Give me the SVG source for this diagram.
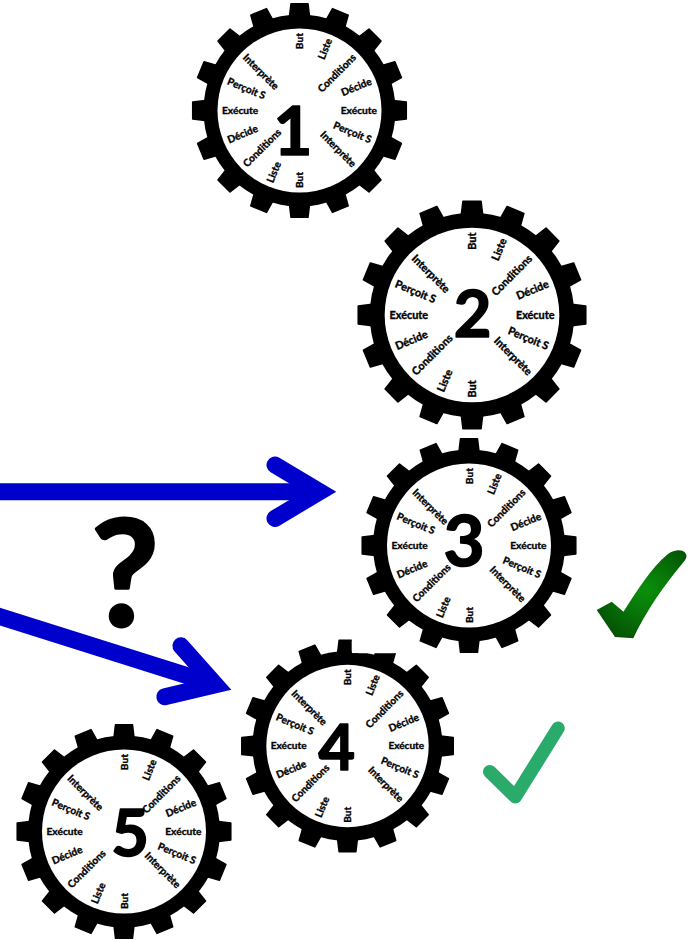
<svg xmlns="http://www.w3.org/2000/svg" xmlns:xlink="http://www.w3.org/1999/xlink" width="693" height="940" viewBox="0 0 693 940">
<style>
.lbl text{font-family:Lato,"Liberation Sans",sans-serif;font-weight:700;font-size:10.2px;fill:#000;stroke:#000;stroke-width:0.35px}
.e{text-anchor:end}
.s{text-anchor:start}
.num{font-family:Lato,"Liberation Sans",sans-serif;font-weight:700;fill:#000;text-anchor:middle;stroke:#000;stroke-width:1.6px;stroke-linejoin:round}
.q{stroke-width:3px}
.arrow{fill:none;stroke:#0000cc;stroke-width:17}
</style>
<defs>
<g id="gear-shape">
<circle r="96" fill="#000"/>
<g fill="#000" stroke="#000" stroke-width="1.5" stroke-linejoin="round">
<polygon id="tooth" points="-10.5,-90 -8.5,-106.8 8.5,-106.8 10.5,-90"/>
<use href="#tooth" transform="rotate(22.5)"/>
<use href="#tooth" transform="rotate(45)"/>
<use href="#tooth" transform="rotate(67.5)"/>
<use href="#tooth" transform="rotate(90)"/>
<use href="#tooth" transform="rotate(112.5)"/>
<use href="#tooth" transform="rotate(135)"/>
<use href="#tooth" transform="rotate(157.5)"/>
<use href="#tooth" transform="rotate(180)"/>
<use href="#tooth" transform="rotate(202.5)"/>
<use href="#tooth" transform="rotate(225)"/>
<use href="#tooth" transform="rotate(247.5)"/>
<use href="#tooth" transform="rotate(270)"/>
<use href="#tooth" transform="rotate(292.5)"/>
<use href="#tooth" transform="rotate(315)"/>
<use href="#tooth" transform="rotate(337.5)"/>
</g>
<circle r="82" fill="#fff"/>
</g>
<marker id="chev" markerUnits="userSpaceOnUse" orient="auto" overflow="visible" markerWidth="1" markerHeight="1" refX="0" refY="0">
<path d="M-44.7,-26.7 L0,0 L-44.7,26.7" fill="none" stroke="#0000cc" stroke-width="17" stroke-linecap="round" stroke-linejoin="miter"/>
</marker>
<radialGradient id="gck" cx="0.55" cy="0.45" r="0.6">
<stop offset="0" stop-color="#0b900b"/>
<stop offset="1" stop-color="#045504"/>
</radialGradient>
<clipPath id="clip4" clipPathUnits="userSpaceOnUse">
<path d="M0,0 H351.7 V653.3 H693 V940 H0 Z"/>
</clipPath>
</defs>

<g id="connectors">
<path class="arrow" d="M-5,491.7 L319.7,491.7" marker-end="url(#chev)"/>
<path class="arrow" d="M-5,615.1 L215.5,684.7" marker-end="url(#chev)"/>
</g>

<g id="question">
<text class="num q" x="125" y="626" font-size="148">?</text>
</g>

<g id="gear1">
<use href="#gear-shape" transform="translate(299.5,110.5)"/>
<g class="lbl" transform="translate(299.5,110.5)">
<text transform="rotate(-90)" x="77.5" y="3.5" class="e">But</text>
<text transform="rotate(-90)" x="-77.5" y="3.5" class="s">But</text>
<text transform="rotate(-67.5)" x="77.5" y="3.5" class="e">Liste</text>
<text transform="rotate(-67.5)" x="-77.5" y="3.5" class="s">Liste</text>
<text transform="rotate(-45)" x="77.5" y="3.5" class="e">Conditions</text>
<text transform="rotate(-45)" x="-77.5" y="3.5" class="s">Conditions</text>
<text transform="rotate(-22.5)" x="77.5" y="3.5" class="e">Décide</text>
<text transform="rotate(-22.5)" x="-77.5" y="3.5" class="s">Décide</text>
<text x="77.5" y="3.5" class="e">Exécute</text>
<text x="-77.5" y="3.5" class="s">Exécute</text>
<text transform="rotate(22.5)" x="77.5" y="3.5" class="e">Perçoit S</text>
<text transform="rotate(22.5)" x="-77.5" y="3.5" class="s">Perçoit S</text>
<text transform="rotate(45)" x="77.5" y="3.5" class="e">Interprète</text>
<text transform="rotate(45)" x="-77.5" y="3.5" class="s">Interprète</text>
</g>
<text class="num" x="293" y="155" font-size="67">1</text>
</g>

<g id="gear2">
<use href="#gear-shape" transform="translate(472,315) scale(1.065)"/>
<g class="lbl" transform="translate(472,315) scale(1.065)">
<text transform="rotate(-90)" x="77.5" y="3.5" class="e">But</text>
<text transform="rotate(-90)" x="-77.5" y="3.5" class="s">But</text>
<text transform="rotate(-67.5)" x="77.5" y="3.5" class="e">Liste</text>
<text transform="rotate(-67.5)" x="-77.5" y="3.5" class="s">Liste</text>
<text transform="rotate(-45)" x="77.5" y="3.5" class="e">Conditions</text>
<text transform="rotate(-45)" x="-77.5" y="3.5" class="s">Conditions</text>
<text transform="rotate(-22.5)" x="77.5" y="3.5" class="e">Décide</text>
<text transform="rotate(-22.5)" x="-77.5" y="3.5" class="s">Décide</text>
<text x="77.5" y="3.5" class="e">Exécute</text>
<text x="-77.5" y="3.5" class="s">Exécute</text>
<text transform="rotate(22.5)" x="77.5" y="3.5" class="e">Perçoit S</text>
<text transform="rotate(22.5)" x="-77.5" y="3.5" class="s">Perçoit S</text>
<text transform="rotate(45)" x="77.5" y="3.5" class="e">Interprète</text>
<text transform="rotate(45)" x="-77.5" y="3.5" class="s">Interprète</text>
</g>
<text class="num" x="472.5" y="336.7" font-size="65">2</text>
</g>

<g id="gear4" clip-path="url(#clip4)">
<use href="#gear-shape" transform="translate(347.5,746) scale(0.99)"/>
<g class="lbl" transform="translate(347.5,746) scale(0.99)">
<text transform="rotate(-90)" x="77.5" y="3.5" class="e">But</text>
<text transform="rotate(-90)" x="-77.5" y="3.5" class="s">But</text>
<text transform="rotate(-67.5)" x="77.5" y="3.5" class="e">Liste</text>
<text transform="rotate(-67.5)" x="-77.5" y="3.5" class="s">Liste</text>
<text transform="rotate(-45)" x="77.5" y="3.5" class="e">Conditions</text>
<text transform="rotate(-45)" x="-77.5" y="3.5" class="s">Conditions</text>
<text transform="rotate(-22.5)" x="77.5" y="3.5" class="e">Décide</text>
<text transform="rotate(-22.5)" x="-77.5" y="3.5" class="s">Décide</text>
<text x="77.5" y="3.5" class="e">Exécute</text>
<text x="-77.5" y="3.5" class="s">Exécute</text>
<text transform="rotate(22.5)" x="77.5" y="3.5" class="e">Perçoit S</text>
<text transform="rotate(22.5)" x="-77.5" y="3.5" class="s">Perçoit S</text>
<text transform="rotate(45)" x="77.5" y="3.5" class="e">Interprète</text>
<text transform="rotate(45)" x="-77.5" y="3.5" class="s">Interprète</text>
</g>
<text class="num" x="336.7" y="770" font-size="63">4</text>
</g>

<g id="gear3">
<use href="#gear-shape" transform="translate(469,545.5)"/>
<g class="lbl" transform="translate(469,545.5)">
<text transform="rotate(-90)" x="77.5" y="3.5" class="e">But</text>
<text transform="rotate(-90)" x="-77.5" y="3.5" class="s">But</text>
<text transform="rotate(-67.5)" x="77.5" y="3.5" class="e">Liste</text>
<text transform="rotate(-67.5)" x="-77.5" y="3.5" class="s">Liste</text>
<text transform="rotate(-45)" x="77.5" y="3.5" class="e">Conditions</text>
<text transform="rotate(-45)" x="-77.5" y="3.5" class="s">Conditions</text>
<text transform="rotate(-22.5)" x="77.5" y="3.5" class="e">Décide</text>
<text transform="rotate(-22.5)" x="-77.5" y="3.5" class="s">Décide</text>
<text x="77.5" y="3.5" class="e">Exécute</text>
<text x="-77.5" y="3.5" class="s">Exécute</text>
<text transform="rotate(22.5)" x="77.5" y="3.5" class="e">Perçoit S</text>
<text transform="rotate(22.5)" x="-77.5" y="3.5" class="s">Perçoit S</text>
<text transform="rotate(45)" x="77.5" y="3.5" class="e">Interprète</text>
<text transform="rotate(45)" x="-77.5" y="3.5" class="s">Interprète</text>
</g>
<text class="num" x="464" y="566" font-size="71">3</text>
</g>

<g id="gear5">
<use href="#gear-shape" transform="translate(124,831.5)"/>
<g class="lbl" transform="translate(124,831.5)">
<text transform="rotate(-90)" x="77.5" y="3.5" class="e">But</text>
<text transform="rotate(-90)" x="-77.5" y="3.5" class="s">But</text>
<text transform="rotate(-67.5)" x="77.5" y="3.5" class="e">Liste</text>
<text transform="rotate(-67.5)" x="-77.5" y="3.5" class="s">Liste</text>
<text transform="rotate(-45)" x="77.5" y="3.5" class="e">Conditions</text>
<text transform="rotate(-45)" x="-77.5" y="3.5" class="s">Conditions</text>
<text transform="rotate(-22.5)" x="77.5" y="3.5" class="e">Décide</text>
<text transform="rotate(-22.5)" x="-77.5" y="3.5" class="s">Décide</text>
<text x="77.5" y="3.5" class="e">Exécute</text>
<text x="-77.5" y="3.5" class="s">Exécute</text>
<text transform="rotate(22.5)" x="77.5" y="3.5" class="e">Perçoit S</text>
<text transform="rotate(22.5)" x="-77.5" y="3.5" class="s">Perçoit S</text>
<text transform="rotate(45)" x="77.5" y="3.5" class="e">Interprète</text>
<text transform="rotate(45)" x="-77.5" y="3.5" class="s">Interprète</text>
</g>
<text class="num" x="130" y="856" font-size="65">5</text>
</g>

<g id="check-dark">
<path d="M596.7,610 L611.7,601.7 L623.5,611.7 C638,589 652,567 668,554 C674,550 681,549 685,552.5 C687.5,555.5 686.5,558.5 684,561.5 C665,584 646,611 633.3,638.3 L615,637 Z" fill="url(#gck)"/>
</g>

<g id="check-light">
<polyline points="489.7,771.7 515.3,796.7 558,728.3" fill="none" stroke="#2bab6b" stroke-width="13.5" stroke-linecap="round" stroke-linejoin="round"/>
</g>
</svg>
